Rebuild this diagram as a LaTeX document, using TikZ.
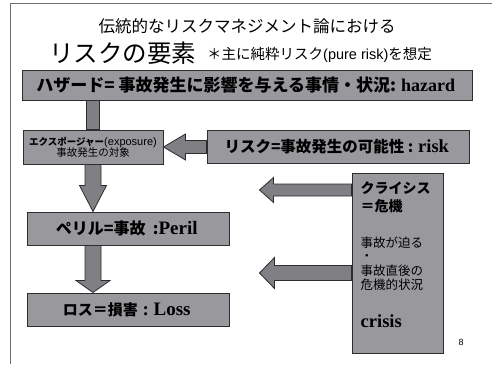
\documentclass[tikz,border=0pt]{standalone}
\usepackage{fontspec}
\setmainfont{Liberation Serif}
\setsansfont{Liberation Sans}
\newfontfamily\jpfont{Noto Sans CJK JP}
\usetikzlibrary{positioning, calc}
\definecolor{boxgray}{RGB}{152, 152, 157}
\definecolor{arrowgray}{RGB}{128, 128, 132}
\definecolor{boxline}{RGB}{45, 45, 45}
\definecolor{framegray}{RGB}{110, 110, 110}
\newcommand{\jpb}{\jpfont\bfseries}
\newcommand{\enb}{\rmfamily\bfseries}
\newcommand{\fs}[1]{\fontsize{#1}{1.2\dimexpr#1pt\relax}\selectfont}
% block arrow: start, end, shaft half width, head half width, head length
\newcommand{\blockarrow}[5]{%
  \coordinate (ba-s) at (#1);
  \coordinate (ba-e) at (#2);
  \coordinate (ba-b) at ($(ba-e)!#5!(ba-s)$);
  \filldraw[arrowfill] ($(ba-s)!#3!90:(ba-e)$) -- ($(ba-b)!#3!90:(ba-e)$)
    -- ($(ba-b)!#4!90:(ba-e)$) -- (ba-e) -- ($(ba-b)!#4!-90:(ba-e)$)
    -- ($(ba-b)!#3!-90:(ba-e)$) -- ($(ba-s)!#3!-90:(ba-e)$) -- cycle;
}

\begin{document}
\begin{tikzpicture}[
    x=1pt, y=1pt,
    box/.style={rectangle, draw=boxline, fill=boxgray, line width=1pt, inner sep=0pt, align=center},
    arrowfill/.style={fill=arrowgray, draw=boxline, line width=0.8pt, line join=miter},
    frame/.style={draw=framegray, line width=0.8pt},
    title/.style={inner sep=0pt, font=\jpfont}
]
\useasboundingbox (0,0) rectangle (492,-364);

% ========== FRAME + TITLE ==========
\draw[frame] (10,-364) -- (10,-3) -- (492,-3);
\node[title, font=\jpfont\fs{16.5}] (title) at (247,-26) {伝統的なリスクマネジメント論における};
\node[title, font=\jpfont\fs{24.5}, anchor=west] (elements) at (49,-53) {リスクの要素};
\node[title, font=\jpfont\fs{14.5}, anchor=west] (note) at (207,-55) {＊主に純粋リスク{\sffamily(pure risk)}を想定};

% ========== BOXES ==========
\node[box, minimum width=450pt, minimum height=30pt] (hazard) at (247,-85) {
    {\jpb\fs{17}ハザード= 事故発生に影響を与える事情・状況: }{\enb\fs{18}hazard}
};

\node[box, minimum width=140pt, minimum height=34pt, below right=29pt and 1pt of hazard.south west] (exposure) {
    {\jpb\fs{9.5}エクスポージャー}{\sffamily\fs{11}(exposure)}\\[-1pt]
    {\jpfont\fs{10.5}事故発生の対象}
};

\node[box, minimum width=262pt, minimum height=33pt, right=43pt of exposure] (risk) {
    {\jpb\fs{15.5}リスク=事故発生の可能性 : }{\enb\fs{18.5}risk}
};

\node[box, minimum width=91pt, minimum height=180pt, below left=9pt and 26pt of risk.south east] (crisis) {};

\node[box, minimum width=202pt, minimum height=33pt, below right=47pt and 4pt of exposure.south west] (peril) {
    {\jpb\fs{16}ペリル=事故\ \ :}{\enb\fs{19}Peril}
};

\node[box, minimum width=202pt, minimum height=33pt, below=47pt of peril] (loss) {
    {\jpb\fs{15}ロス＝損害}{\enb\fs{19}\ :\ Loss}
};

% crisis text
\node[inner sep=0pt, align=left, font=\jpfont\fs{12.5}, below right=9pt and 9pt of crisis.north west] (crisistext) {
    {\jpb\fs{14}クライシス}\\[3pt]
    {\jpb\fs{14}＝危機}\\[21pt]
    事故が迫る\\[-2pt]
    ・\\[0pt]
    事故直後の\\[-1pt]
    危機的状況\\[23pt]
    {\enb\fs{18.5}crisis}
};

\node[inner sep=0pt, font=\sffamily\fs{9}] (page) at (461,-342) {8};

% ========== ARROWS ==========
\filldraw[arrowfill] ($(exposure.north)+(-6.5pt,0pt)$) rectangle ($(hazard.south -| exposure.north)+(6.5pt,0pt)$);
\blockarrow{exposure.south}{exposure.south |- peril.north}{8pt}{13.5pt}{26pt}
\blockarrow{peril.south -| exposure.south}{loss.north -| exposure.south}{8pt}{17pt}{12pt}
\blockarrow{risk.west}{exposure.east |- risk.west}{6.5pt}{13pt}{22pt}

\coordinate (crisisup) at ($(crisis.north west)+(0pt,-17pt)$);
\coordinate (tipup) at ($(crisisup)+(-92pt,0pt)$);
\coordinate (crisislow) at ($(crisis.north west)+(0pt,-100pt)$);
\coordinate (tiplow) at ($(crisislow)+(-92pt,0pt)$);
\blockarrow{crisisup}{tipup}{6pt}{12.5pt}{14pt}
\blockarrow{crisislow}{tiplow}{7.5pt}{15.5pt}{15pt}

\end{tikzpicture}
\end{document}
